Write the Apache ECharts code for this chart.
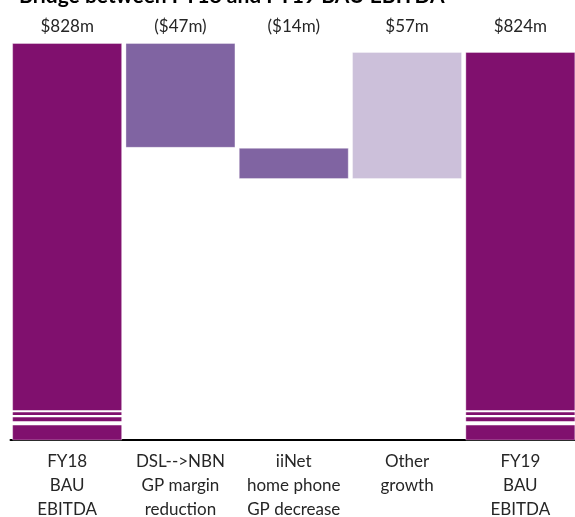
<!DOCTYPE html>
<html>
<head>
<meta charset="utf-8">
<script src="https://cdn.jsdelivr.net/npm/echarts@6/dist/echarts.min.js"></script>
<style>
  html, body { margin: 0; padding: 0; background: #fff; }
  #chart { width: 575px; height: 517px; }
</style>
</head>
<body>
<div id="chart"></div>
<script>
// bridge steps
const categories = ['FY18\nBAU\nEBITDA', 'DSL-->NBN\nGP margin\nreduction', 'iiNet\nhome phone\nGP decrease', 'Other\ngrowth', 'FY19\nBAU\nEBITDA'];
const values = [828, -47, -14, 57, 824];
const isTotal = [true, false, false, false, true];
// white "axis break" bands drawn on the total bars (value ranges)
const breakBands = [[662.4, 663.3], [660.2, 661.2], [656.6, 658.4]];

const COLORS = { total: '#80106e', down: '#8064a2', up: '#ccc0da' };
const FONT = 'Lato';

// build waterfall base + visible parts
const baseData = [];
const barData = [];
let running = 0;
values.forEach((v, i) => {
  if (isTotal[i]) {
    baseData.push(0);
    barData.push({ value: v, itemStyle: { color: COLORS.total } });
    running = v;
  } else if (v < 0) {
    running += v;
    baseData.push(running);
    barData.push({ value: -v, itemStyle: { color: COLORS.down } });
  } else {
    baseData.push(running);
    barData.push({ value: v, itemStyle: { color: COLORS.up } });
    running += v;
  }
});

const valueLabels = values.map(v => (v < 0 ? '($' + (-v) + 'm)' : '$' + v + 'm'));

const breakData = [];
isTotal.forEach((t, i) => {
  if (t) breakBands.forEach(b => breakData.push([i, b[0], b[1]]));
});

const chart = echarts.init(document.getElementById('chart'));
chart.setOption({
  animation: false,
  backgroundColor: '#fff',
  title: {
    text: 'Bridge between FY18 and FY19 BAU EBITDA',
    left: 14,
    top: -19,
    textStyle: { fontFamily: FONT, fontSize: 21, fontWeight: 'bold', color: '#000' }
  },
  grid: { left: 10.5, right: -2, top: 43, bottom: 77, outerBoundsMode: 'none' },
  xAxis: [
    {
      type: 'category',
      data: categories,
      axisLine: { lineStyle: { color: '#000', width: 2 } },
      axisTick: { show: false },
      axisLabel: {
        color: '#262626',
        fontFamily: FONT,
        fontSize: 17,
        lineHeight: 24,
        margin: 10,
        interval: 0
      }
    },
    {
      type: 'category',
      position: 'top',
      data: valueLabels,
      axisLine: { show: false },
      axisTick: { show: false },
      axisLabel: {
        color: '#262626',
        fontFamily: FONT,
        fontSize: 17,
        lineHeight: 20,
        margin: 6,
        interval: 0
      }
    }
  ],
  yAxis: {
    type: 'value',
    min: 650,
    max: 828,
    show: false,
    splitLine: { show: false }
  },
  series: [
    {
      type: 'bar',
      stack: 'bridge',
      data: baseData,
      barWidth: 110,
      itemStyle: { color: 'transparent' },
      silent: true
    },
    {
      type: 'bar',
      stack: 'bridge',
      data: barData,
      barWidth: 110,
      itemStyle: { borderColor: 'rgba(255,255,255,0.35)', borderWidth: 1 }
    },
    {
      type: 'custom',
      data: breakData,
      silent: true,
      z: 5,
      renderItem: (params, api) => {
        const top = api.coord([api.value(0), api.value(2)]);
        const bottom = api.coord([api.value(0), api.value(1)]);
        return {
          type: 'rect',
          shape: { x: top[0] - 56, y: top[1], width: 112, height: bottom[1] - top[1] },
          style: { fill: '#fff' }
        };
      }
    }
  ]
});
</script>
</body>
</html>
